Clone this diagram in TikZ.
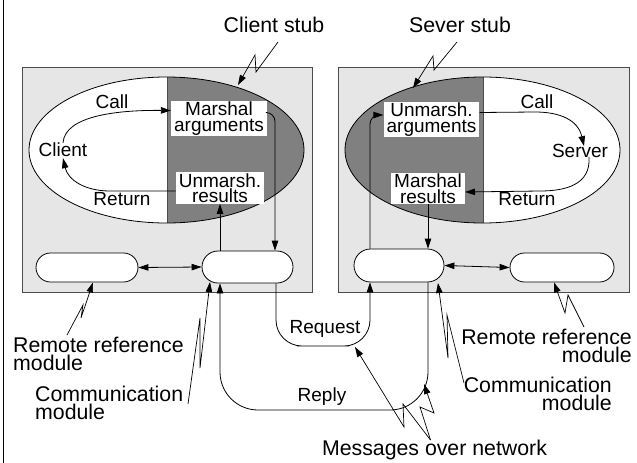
\documentclass[tikz,border=0pt]{standalone}
\usepackage{fontspec}
\setmainfont{Liberation Sans}
\usetikzlibrary{arrows.meta,shapes.misc}
\definecolor{boxgray}{HTML}{E6E6E6}
\definecolor{stubgray}{HTML}{808080}
\begin{document}
\begin{tikzpicture}[
		x=1pt, y=-1pt,
		every node/.style={inner sep=0pt},
		small/.style={font=\fontsize{19}{15.5}\selectfont, align=center},
		big/.style={font=\fontsize{21.3}{17.5}\selectfont},
		lbl/.style={small, fill=white, inner xsep=3pt, inner ysep=1pt},
		module/.style={draw, fill=white, rounded rectangle, line width=0.8pt},
		arr/.style={-{Triangle[length=10pt,width=6.5pt]}, line width=0.8pt},
		dbl/.style={{Triangle[length=10pt,width=6.5pt]}-{Triangle[length=10pt,width=6.5pt]}, line width=0.8pt},
		zap/.style={arr, line width=0.7pt}
		]
		\useasboundingbox (0,0) rectangle (637,463);
		\draw[line width=0.8pt] (3,0) -- (3,463);
		% the two processes
		\draw[fill=boxgray, draw=black!70, line width=0.8pt] (22,67) rectangle (312,292);
		\draw[fill=boxgray, draw=black!70, line width=0.8pt] (338,67) rectangle (629,292);
		% client side ellipse
		\fill[white] (166.5,150) ellipse [x radius=137.5, y radius=73];
		\begin{scope}
			\clip (167,60) rectangle (320,240);
			\fill[stubgray] (166.5,150) ellipse [x radius=137.5, y radius=73];
		\end{scope}
		\draw[black!70, line width=0.8pt] (167,77) -- (167,223);
		\draw[line width=0.8pt] (166.5,150) ellipse [x radius=137.5, y radius=73];
		% server side ellipse
		\fill[white] (482.5,150) ellipse [x radius=137.5, y radius=73];
		\begin{scope}
			\clip (340,60) rectangle (483,240);
			\fill[stubgray] (482.5,150) ellipse [x radius=137.5, y radius=73];
		\end{scope}
		\draw[black!70, line width=0.8pt] (483,77) -- (483,223);
		\draw[line width=0.8pt] (482.5,150) ellipse [x radius=137.5, y radius=73];

		\node[small] (call1) at (112,102) {Call};
		\node[small] (client) at (63,150) {Client};
		\node[small] (ret1) at (122,199) {Return};
		\node[lbl] (marg) at (219,118.5) {Marshal\\arguments};
		\node[lbl] (ures) at (220,188) {Unmarsh.\\results};

		\node[small] (call2) at (537,102) {Call};
		\node[small] (server) at (580,151) {Server};
		\node[small] (ret2) at (527,199) {Return};
		\node[lbl] (uarg) at (431.5,119.5) {Unmarsh.\\arguments};
		\node[lbl] (mres) at (428,188.5) {Marshal\\results};

		% modules
		\node[module, minimum width=102pt, minimum height=29pt] (rrm1) at (87,267.5) {};
		\node[module, minimum width=91pt, minimum height=32pt] (com1) at (247.5,267) {};
		\node[module, minimum width=90pt, minimum height=33pt] (com2) at (399,265.5) {};
		\node[module, minimum width=104pt, minimum height=29pt] (rrm2) at (562,267.5) {};

		\draw[dbl] (rrm1.east) -- (com1.west);
		\draw[dbl] (com2.east) -- (rrm2.west);

		% calls inside the stubs
		\draw[arr] (client.north) .. controls (65,115) and (120,110) .. ([yshift=8pt]marg.west);
		\draw[arr] ([yshift=-3pt]ures.west) -- (110,191) .. controls (85,191) and (68,180) .. ([yshift=-1pt]client.south);
		\draw[arr, rounded corners=9pt] ([yshift=6pt]marg.east) -| ([xshift=27.5pt]com1.north);
		\draw[arr] (com1.north -| ures.south) -- (ures.south);
		\draw[arr, rounded corners=9pt] ([xshift=-29pt]com2.north) |- ([yshift=4.5pt]uarg.west);
		\draw[arr] (mres.south) -- (mres.south |- com2.north);
		\draw[arr] ([yshift=7pt]uarg.east) -- (535,112) .. controls (560,112) and (578,120) .. ([xshift=4pt,yshift=-2pt]server.north);
		\draw[arr] ([xshift=9pt,yshift=1pt]server.south) .. controls (591,185) and (565,191) .. (540,191) -- ([yshift=-3.5pt]mres.east);

		% messages
		\draw[arr, rounded corners=26pt] ([xshift=28.5pt]com1.south) |- (323,346) -| ([xshift=-29pt]com2.south);
		\draw[arr, rounded corners=38pt] ([xshift=29pt]com2.south) |- (322,410) -| ([xshift=-27.5pt]com1.south);
		\node[small] (req) at (325,329) {Request};
		\node[small] (rep) at (322,397) {Reply};

		% callouts
		\node[big] (cstub) at (274,25) {Client stub};
		\node[big] (sstub) at (460,25) {Sever stub};
		\node[big, align=left, anchor=north west] (rrml) at (13,337) {Remote reference\\module};
		\node[big, align=left, anchor=north west] (cml) at (35,386) {Communication\\module};
		\node[big, align=right, anchor=north east] (rrmr) at (632,329) {Remote reference\\module};
		\node[big, align=right, anchor=north east] (cmr) at (612,377) {Communication\\module};
		\node[big, anchor=north] (msg) at (434.5,440) {Messages over network};

		\draw[zap] ([shift={(4,9)}]cstub.south) -- (256,72) -- (255,55) -- (238,85);
		\draw[zap] ([shift={(-3,9)}]sstub.south) -- (434,70) -- (433,56) -- (413,88);
		\draw[zap] (67,335) -- (83,305) -- (81,318) -- ([xshift=6pt]rrm1.south);
		\draw[zap] (188,404) -- (200,318) -- (200,368) -- (210,282);
		\draw[zap] (464,383) -- (447,315) -- (448,358) -- (438,283);
		\draw[zap] (584,327) -- (568,295) -- (565,313) -- ([xshift=-8pt]rrm2.south);
		\draw[zap] ([xshift=-4pt]msg.north) -- (403,404) -- (404,427) -- (355,347);
		\draw[zap] ([xshift=-4pt]msg.north) -- (420,407) -- (434,413) -- (424,384);
	\end{tikzpicture}
\end{document}
